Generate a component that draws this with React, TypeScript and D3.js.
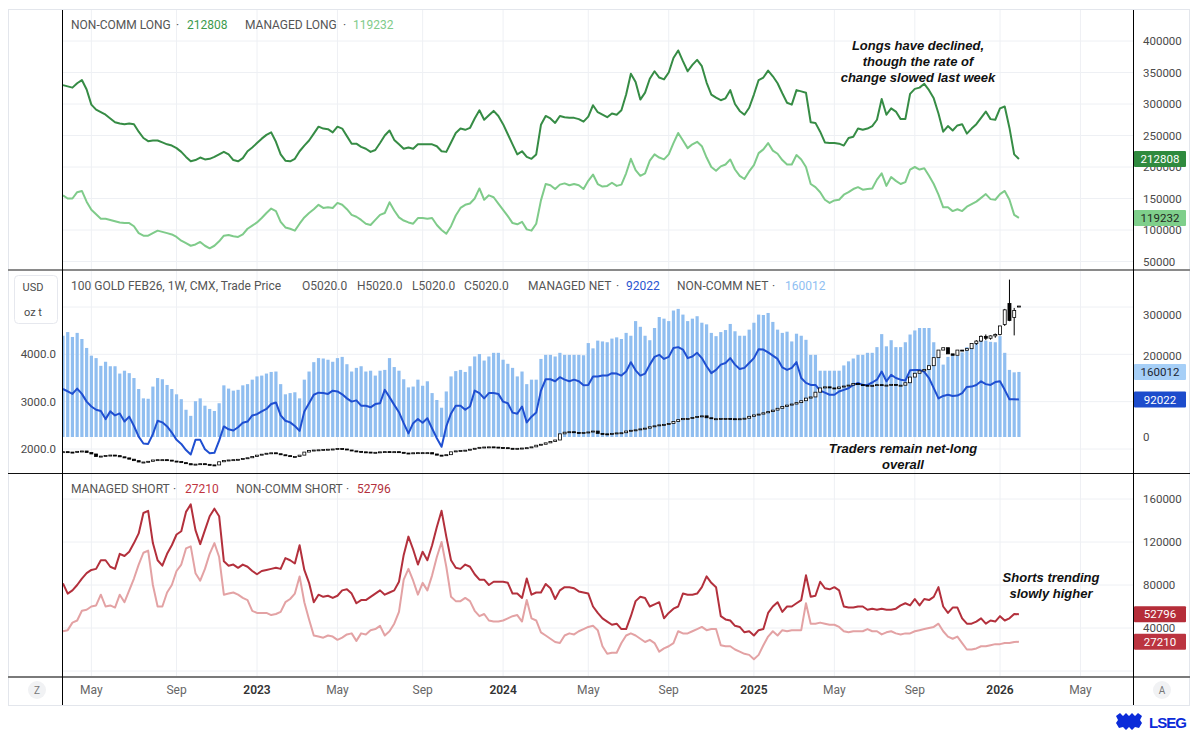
import React from 'react';
import * as d3 from 'd3';

const FONT = "Roboto, 'Liberation Sans', Arial, sans-serif";

// weekly COT report dates start here (Tuesdays), one value per week
const firstWeek = new Date(2022, 2, 22);

// positions in thousands of contracts
const nonCommLong = [
  330, 328, 326, 333, 338, 323, 299, 291, 287, 283,
  277, 271, 269, 268, 269, 268, 256, 246, 241, 242,
  242, 239, 236, 234, 230, 224, 216, 209, 211, 215,
  212, 213, 216, 220, 224, 220, 211, 209, 214, 225,
  231, 238, 245, 251, 255, 240, 220, 210, 209, 213,
  225, 234, 242, 253, 264, 261, 260, 255, 264, 261,
  249, 237, 237, 232, 229, 224, 227, 238, 250, 258,
  243, 236, 229, 231, 229, 236, 236, 236, 236, 233,
  225, 224, 239, 254, 261, 259, 262, 277, 290, 275,
  282, 289, 281, 268, 252, 236, 220, 225, 216, 213,
  220, 267, 281, 277, 270, 281, 279, 278, 278, 276,
  272, 280, 298,
  287, 283, 279, 285, 283, 290, 315, 348, 335, 307,
  318, 340, 352, 342, 339, 350, 373, 385, 368, 352,
  362, 370, 360, 334, 315, 310, 306, 309, 322, 300,
  289, 283, 294, 315, 338, 342, 353, 344, 333, 317,
  302, 299, 322, 320, 318, 271, 270, 256, 239, 238,
  238, 237, 234, 246, 248, 261, 259, 261, 265, 275,
  308, 283, 293, 288, 276, 276, 316, 324, 326, 332,
  322, 309, 285, 256, 265, 258, 266, 268, 253, 261,
  268, 278, 288, 276, 275, 293, 296, 262, 220, 212.808,
];

const managedLong = [
  155, 150, 150, 160, 162, 145, 132, 125, 118, 118,
  116, 114, 112, 111, 111, 106, 95, 91, 91, 95,
  99, 97, 95, 93, 89, 83, 79, 75, 77, 81,
  75, 71, 75, 82, 91, 92, 90, 89, 93, 102,
  107, 112, 119, 127, 134, 130, 113, 104, 102, 99,
  110, 120, 127, 133, 140, 135, 136, 135, 143, 140,
  133, 124, 121, 116, 110, 108, 116, 124, 127, 144,
  131, 120, 115, 112, 110, 119, 119, 118, 119, 108,
  100, 94, 106, 123, 135, 140, 142, 150, 166, 148,
  155, 152, 142, 132, 122, 111, 109, 113, 101, 99,
  110, 147, 173, 171, 165, 172, 174, 171, 173, 171,
  165, 178, 188,
  173, 169, 170, 175, 170, 172, 190, 213, 195, 186,
  190, 210, 220, 215, 212, 220, 238, 254, 242, 230,
  236, 240, 233, 215, 200, 194, 201, 204, 212, 196,
  186, 181, 193, 203, 222, 228, 238, 226, 221, 211,
  204, 204, 219, 212, 200, 173, 168, 160, 148, 143,
  147, 148, 156, 160, 165, 168, 164, 165, 166, 180,
  190, 170, 184, 178, 173, 176, 196, 200, 196, 198,
  186, 173, 156, 136, 136, 130, 133, 130, 137, 141,
  145, 151, 157, 149, 148, 157, 162, 148, 124, 119.232,
];

const nonCommNet = [
  249, 258, 246, 256, 241, 219, 200, 194, 175, 185,
  174, 174, 156, 163, 157, 145, 118, 95, 94, 124,
  145, 142, 128, 118, 105, 93, 67, 52, 88, 95,
  77, 69, 64, 83, 127, 119, 114, 116, 127, 130,
  141, 149, 151, 156, 160, 161, 130, 105, 108, 110,
  95, 141, 161, 184, 194, 193, 190, 185, 194, 197,
  179, 161, 170, 174, 161, 163, 151, 163, 165, 194,
  172, 163, 142, 122, 124, 141, 126, 137, 108, 91,
  72, 112, 149, 162, 165, 160, 174, 198, 204, 188,
  198, 207, 207, 190, 180, 170, 149, 161, 130, 141,
  141, 192, 202, 202, 198, 207, 202, 202, 202, 202,
  201, 231, 218,
  237, 235, 233, 242, 245, 241, 256, 249, 285, 271,
  249, 238, 268, 295, 291, 285, 311, 315, 301, 285,
  291, 297, 281, 277, 256, 248, 258, 263, 278, 260,
  249, 249, 264, 281, 301, 300, 305, 283, 264, 256,
  259, 235, 254, 249, 239, 202, 202, 163, 163, 163,
  163, 163, 176, 186, 193, 202, 202, 207, 207, 221,
  253, 223, 238, 221, 221, 233, 252, 262, 268, 268,
  268, 233, 209, 178, 197, 202, 200, 208, 221, 225,
  231, 238, 237, 234, 233, 248, 207, 165, 159, 160.012,
];

const managedNet = [
  118, 112, 106, 119, 106, 87, 75, 67, 64, 44,
  63, 53, 58, 38, 50, 27, 1, -16, -17, 7,
  40, 36, 26, 11, -7, -17, -32, -43, -7, -7,
  -30, -40, -39, -9, 26, 19, 16, 24, 35, 38,
  53, 56, 63, 69, 81, 85, 53, 40, 36, 27,
  15, 63, 83, 104, 109, 108, 106, 114, 112, 105,
  95, 87, 90, 77, 77, 73, 81, 83, 116, 98,
  79, 61, 34, 9, 34, 44, 35, 46, 21, -3,
  -24, 26, 58, 77, 77, 67, 75, 114, 108, 95,
  108, 108, 106, 87, 83, 60, 57, 75, 36, 50,
  60, 114, 142, 142, 137, 147, 141, 137, 141, 137,
  127, 128, 149,
  149, 151, 151, 157, 156, 151, 161, 184, 164, 151,
  156, 178, 197, 202, 192, 197, 219, 221, 215, 194,
  198, 207, 194, 174, 157, 165, 178, 182, 194, 178,
  167, 170, 182, 194, 216, 215, 208, 200, 192, 171,
  165, 170, 184, 145, 133, 128, 128, 114, 109, 104,
  104, 112, 116, 120, 128, 133, 128, 128, 134, 141,
  161, 137, 153, 145, 141, 139, 164, 165, 165, 160,
  145, 120, 95, 101, 104, 101, 102, 108, 123, 124,
  128, 137, 130, 128, 135, 137, 116, 93, 93, 92.022,
];

const nonCommShort = [
  81.5, 72, 75, 80, 86, 91, 94, 95, 103, 103,
  97, 95, 109, 107, 111, 119, 128, 147, 149, 119,
  103, 98, 109, 117, 127, 130, 148, 155, 131, 118,
  131, 144, 151, 144, 102, 98, 99, 96, 99, 97,
  93, 90, 93, 94, 95, 96, 95, 105, 103, 100,
  117, 94, 82, 64, 71, 69, 70, 68, 70, 75,
  76, 72, 63, 66, 66, 69, 72, 75, 71, 73,
  75, 83, 108, 125, 113, 99, 111, 103, 117, 134,
  149, 125, 103, 96, 95, 99, 97, 90, 85, 85,
  80, 83, 83, 83, 82, 72, 72, 68, 86, 71,
  73, 73, 81, 77, 67, 75, 78, 78, 77, 74,
  73, 72, 60,
  54, 49, 46, 43, 44, 39, 39, 51, 65, 69,
  68, 60, 62, 64, 49, 54, 58, 60, 72, 71,
  71, 72, 78, 88, 82, 78, 51, 48, 47, 42,
  41, 36, 37, 33, 38, 39, 54, 60, 64, 55,
  60, 60, 63, 66, 89, 69, 70, 83, 77, 76,
  78, 75, 60, 59, 59, 60, 60, 57, 58, 57,
  58, 57, 57, 58, 61, 63, 61, 67, 61, 67,
  66, 69, 78, 60, 54, 59, 59, 49, 44, 44,
  46, 49, 44, 47, 46, 51, 47, 49, 53, 52.796,
];

const managedShort = [
  37, 38, 45, 47, 56, 57, 60, 61, 71, 60,
  61, 59, 71, 64, 75, 86, 99, 110, 112, 80,
  60, 60, 73, 80, 93, 99, 114, 116, 91, 84,
  95, 109, 119, 106, 71, 72, 73, 71, 68, 66,
  56, 54, 54, 54, 52, 53, 55, 64, 67, 72,
  88, 64, 48, 33, 32, 31, 33, 32, 29, 31,
  34, 35, 28, 35, 34, 38, 39, 42, 33, 37,
  44, 55, 85, 95, 84, 71, 82, 75, 89, 106,
  120, 97, 69, 65, 65, 68, 65, 56, 51, 53,
  47, 46, 46, 47, 49, 51, 52, 46, 66, 49,
  47, 36, 33, 30, 27, 26, 33, 35, 34, 37,
  39, 41, 42,
  38, 23, 16, 17, 17, 26, 33, 35, 33, 30,
  27, 29, 26, 18, 21, 23, 26, 37, 35, 35,
  37, 39, 41, 38, 39, 39, 24, 23, 23, 20,
  18, 16, 15, 11, 15, 24, 32, 37, 33, 38,
  37, 38, 38, 38, 63, 44, 44, 45, 44, 43,
  43, 41, 37, 36, 37, 37, 37, 39, 37, 37,
  34, 36, 37, 35, 34, 35, 35, 37, 38, 39,
  40, 41, 44, 37, 32, 30, 32, 26, 20, 20,
  21, 23, 23, 24, 25, 25, 26, 26, 27, 27.21,
];

// gold futures weekly close, USD / oz t
const goldClose = [
  1944, 1935, 1932, 1950, 1958, 1925, 1895, 1840, 1850, 1862,
  1872, 1860, 1835, 1812, 1785, 1754, 1725, 1725, 1740, 1768,
  1775, 1775, 1765, 1745, 1735, 1712, 1690, 1665, 1680, 1690,
  1676, 1664, 1663, 1730, 1758, 1768, 1775, 1782, 1800, 1815,
  1840, 1870, 1890, 1910, 1920, 1900, 1878, 1860, 1840, 1840,
  1870, 1935, 1970, 1978, 1983, 1990, 1995, 2000, 2010, 2000,
  1979, 1960, 1950, 1940, 1935, 1930, 1930, 1940, 1945, 1944,
  1944, 1930, 1915, 1910, 1920, 1923, 1923, 1923, 1895, 1870,
  1860, 1880, 1940, 1960, 1970, 1975, 1995, 2015, 2035, 2042,
  2045, 2040, 2032, 2028, 2015, 2014, 2014, 2020, 2028, 2045,
  2080, 2100, 2130, 2160, 2190, 2320, 2355, 2365, 2350, 2340,
  2350, 2360, 2379,
  2330, 2320, 2318, 2330, 2340, 2344, 2380, 2395, 2405, 2425,
  2440, 2470, 2490, 2510, 2520, 2540, 2580, 2620, 2646, 2646,
  2665, 2685, 2700, 2660, 2640, 2640, 2646, 2646, 2640, 2632,
  2640, 2650, 2690, 2720, 2737, 2765, 2790, 2821, 2860, 2900,
  2927, 2950, 2980, 3020, 3075, 3100, 3200, 3290, 3313, 3290,
  3280, 3310, 3330, 3350, 3383, 3360, 3348, 3330, 3345, 3360,
  3340, 3350, 3365, 3348, 3348, 3400, 3520, 3600, 3650, 3680,
  3760, 3930, 4090, 4140, 4010, 3980, 4090, 4085, 4120, 4230,
  4280, 4380, 4340, 4390, 4420, 4600, 4940, 4716, 4926, 5020,
];

// last ten candles have visible opens and wicks
const recentOpen = [4230, 4280, 4380, 4340, 4390, 4420, 4632, 5074, 4779, 5020];
const recentHigh = [4300, 4400, 4420, 4400, 4440, 4470, 4960, 5579, 4980, 5020];
const recentLow = [4200, 4260, 4300, 4310, 4350, 4400, 4600, 4700, 4400, 5020];

const tickMonths = [
  '2022-05', '2022-09', '2023-01', '2023-05', '2023-09', '2024-01', '2024-05',
  '2024-09', '2025-01', '2025-05', '2025-09', '2026-01', '2026-05',
];

const topTicks = [50000, 100000, 150000, 200000, 250000, 300000, 350000, 400000];
// 100000 sits under the managed-net badge in the original, so it is not printed
const netTicks = [0, 200000, 300000];
const priceTicks = [2000, 3000, 4000, 5000];
const shortTicks = [40000, 80000, 120000, 160000];

const LEFT = 62;
const RIGHT = 1133;

const dates = nonCommLong.map((_, i) => d3.timeWeek.offset(firstWeek, i));

const x = d3.scaleTime().domain([new Date(2023, 0, 3), new Date(2026, 0, 6)]).range([257, 1000]);
const yTop = d3.scaleLinear().domain([50000, 400000]).range([261.5, 41]);
const yNet = d3.scaleLinear().domain([0, 300000]).range([437, 315]);
const yPrice = d3.scaleLinear().domain([2000, 5000]).range([449, 307]);
const yShort = d3.scaleLinear().domain([0, 160000]).range([671, 499]);

const pathFor = (vals: number[], y: d3.ScaleLinear<number, number>) =>
  d3.line<number>().x((_, i) => x(dates[i])).y((v) => y(v * 1000))(vals) || '';

const fmtMonth = d3.timeFormat('%b');
const ticks = tickMonths.map((s) => {
  const [yy, mm] = s.split('-').map(Number);
  const d = d3.timeTuesday.ceil(new Date(yy, mm - 1, 1));
  return { x: x(d), label: mm === 1 ? String(yy) : fmtMonth(d), year: mm === 1 };
});

const last = (a: number[]) => Math.round(a[a.length - 1] * 1000);

const C = {
  ncLong: '#368c45',
  mLong: '#7fcb8a',
  bars: '#90bef0',
  mNet: '#1f4fd1',
  ncShort: '#b3303c',
  mShort: '#e3a2a4',
  grid: '#eef0f4',
  text: '#4a4a4a',
};

function Badge({ y, value, bg, fg }: { y: number; value: number; bg: string; fg: string }) {
  return (
    <g>
      <rect x={1134} y={y - 8} width={52} height={16} fill={bg} rx={1} />
      <text x={1160} y={y + 4} textAnchor="middle" fontSize={11.5} fill={fg} fontFamily={FONT}>
        {value}
      </text>
    </g>
  );
}

type Part = { x: number; t: string; c?: string };
function Legend({ y, parts }: { y: number; parts: Part[] }) {
  return (
    <g fontFamily={FONT} fontSize={12}>
      {parts.map((p, i) => (
        <text key={i} x={p.x} y={y} fill={p.c || '#555'}>
          {p.t}
        </text>
      ))}
    </g>
  );
}

export default function App() {
  const n = dates.length;
  const recentStart = n - recentOpen.length;

  const candles = goldClose.map((c, i) => {
    const r = i - recentStart;
    const o = r >= 0 ? recentOpen[r] : i === 0 ? c : goldClose[i - 1];
    const up = c >= o;
    const cx = x(dates[i]);
    const top = yPrice(Math.max(o, c));
    const h = Math.max(1, Math.abs(yPrice(o) - yPrice(c)));
    return (
      <g key={i}>
        {r >= 0 && (
          <line x1={cx} x2={cx} y1={yPrice(recentHigh[r])} y2={yPrice(recentLow[r])} stroke="#000" strokeWidth={1} />
        )}
        <rect x={cx - 1.5} y={top} width={3} height={h} fill={up ? '#fff' : '#000'} stroke="#000" strokeWidth={0.8} />
      </g>
    );
  });

  return (
    <svg
      width={1199}
      height={735}
      style={{ position: 'absolute', left: 0, top: 0, background: '#fff', display: 'block' }}
    >
      <defs>
        <clipPath id="cTop"><rect x={LEFT} y={11} width={RIGHT - LEFT} height={258} /></clipPath>
        <clipPath id="cMid"><rect x={LEFT} y={271} width={RIGHT - LEFT} height={201} /></clipPath>
        <clipPath id="cBot"><rect x={LEFT} y={474} width={RIGHT - LEFT} height={202} /></clipPath>
      </defs>
      <rect x={0} y={0} width={1199} height={735} fill="#fff" />
      <rect x={8.5} y={9.5} width={1181} height={696} fill="none" stroke="#e3e6ec" />

      {/* vertical grid */}
      {ticks.filter((t) => t.x < RIGHT).map((t, i) => (
        <line key={i} x1={t.x} x2={t.x} y1={10} y2={677} stroke={C.grid} />
      ))}
      {/* horizontal grid */}
      {topTicks.map((v) => (
        <line key={'gt' + v} x1={LEFT} x2={RIGHT} y1={yTop(v)} y2={yTop(v)} stroke={C.grid} />
      ))}
      {priceTicks.map((v) => (
        <line key={'gp' + v} x1={LEFT} x2={RIGHT} y1={yPrice(v)} y2={yPrice(v)} stroke={C.grid} />
      ))}
      {[0, ...shortTicks].map((v) => (
        <line key={'gs' + v} x1={LEFT} x2={RIGHT} y1={yShort(v)} y2={yShort(v)} stroke={C.grid} />
      ))}

      {/* top pane: longs */}
      <g clipPath="url(#cTop)" fill="none" strokeWidth={2} strokeLinejoin="round">
        <path d={pathFor(managedLong, yTop)} stroke={C.mLong} />
        <path d={pathFor(nonCommLong, yTop)} stroke={C.ncLong} />
      </g>

      {/* middle pane: nets + gold price */}
      <g clipPath="url(#cMid)">
        {nonCommNet.map((v, i) => (
          <rect key={i} x={x(dates[i]) - 1.6} y={yNet(v * 1000)} width={3.2} height={yNet(0) - yNet(v * 1000)} fill={C.bars} />
        ))}
        <path d={pathFor(managedNet, yNet)} fill="none" stroke={C.mNet} strokeWidth={2} strokeLinejoin="round" />
        {candles}
      </g>

      {/* bottom pane: shorts */}
      <g clipPath="url(#cBot)" fill="none" strokeWidth={2} strokeLinejoin="round">
        <path d={pathFor(managedShort, yShort)} stroke={C.mShort} />
        <path d={pathFor(nonCommShort, yShort)} stroke={C.ncShort} />
      </g>

      {/* separators */}
      <line x1={8} x2={1190} y1={270} y2={270} stroke="#8a8a8a" strokeWidth={2} />
      <line x1={8} x2={1190} y1={473.5} y2={473.5} stroke="#111" strokeWidth={1} />
      <line x1={8} x2={1190} y1={677} y2={677} stroke="#7a7a7a" strokeWidth={2} />
      <line x1={LEFT + 0.5} x2={LEFT + 0.5} y1={10} y2={705} stroke="#000" />
      <line x1={RIGHT + 0.5} x2={RIGHT + 0.5} y1={10} y2={705} stroke="#000" />

      {/* right axes */}
      <g fontFamily={FONT} fontSize={11.5} fill={C.text}>
        {topTicks.map((v) => (
          <text key={'t' + v} x={1143} y={yTop(v) + 4}>{v}</text>
        ))}
        {netTicks.map((v) => (
          <text key={'n' + v} x={1143} y={yNet(v) + 4}>{v}</text>
        ))}
        {shortTicks.map((v) => (
          <text key={'s' + v} x={1143} y={yShort(v) + 4}>{v}</text>
        ))}
      </g>
      {/* left price axis */}
      <g fontFamily={FONT} fontSize={11.5} fill={C.text} textAnchor="end">
        {priceTicks.filter((v) => v < 5000).map((v) => (
          <text key={'p' + v} x={56} y={yPrice(v) + 4}>{v.toFixed(1)}</text>
        ))}
      </g>
      <rect x={14.5} y={275.5} width={43} height={48} rx={4} fill="#fff" stroke="#e6e8ee" />
      <text x={33} y={291} textAnchor="middle" fontFamily={FONT} fontSize={11} fill={C.text}>USD</text>
      <text x={33} y={316} textAnchor="middle" fontFamily={FONT} fontSize={11} fill={C.text}>oz t</text>

      {/* last value badges */}
      <Badge y={yTop(last(nonCommLong))} value={last(nonCommLong)} bg="#2f8a3e" fg="#fff" />
      <Badge y={yTop(last(managedLong))} value={last(managedLong)} bg="#7fcf8b" fg="#1f2a1f" />
      <Badge y={yNet(last(nonCommNet))} value={last(nonCommNet)} bg="#a6cff7" fg="#1c2633" />
      <Badge y={yNet(last(managedNet))} value={last(managedNet)} bg="#1d4ccc" fg="#fff" />
      <Badge y={yShort(last(nonCommShort))} value={last(nonCommShort)} bg="#b52d39" fg="#fff" />
      <Badge y={yShort(last(managedShort))} value={last(managedShort)} bg="#bb3440" fg="#fff" />

      {/* legends */}
      <Legend
        y={29}
        parts={[
          { x: 71, t: 'NON-COMM LONG' },
          { x: 176, t: '·' },
          { x: 187, t: String(last(nonCommLong)), c: '#3c9a4c' },
          { x: 245, t: 'MANAGED LONG' },
          { x: 343, t: '·' },
          { x: 353, t: String(last(managedLong)), c: '#7fcb8a' },
        ]}
      />
      <Legend
        y={290}
        parts={[
          { x: 71, t: '100 GOLD FEB26, 1W, CMX, Trade Price' },
          { x: 302, t: 'O5020.0' },
          { x: 357, t: 'H5020.0' },
          { x: 412, t: 'L5020.0' },
          { x: 464, t: 'C5020.0' },
          { x: 528, t: 'MANAGED NET' },
          { x: 616, t: '·' },
          { x: 626, t: String(last(managedNet)), c: '#2a55d0' },
          { x: 677, t: 'NON-COMM NET' },
          { x: 772, t: '·' },
          { x: 785, t: String(last(nonCommNet)), c: '#8fc0f2' },
        ]}
      />
      <Legend
        y={493}
        parts={[
          { x: 71, t: 'MANAGED SHORT' },
          { x: 173, t: '·' },
          { x: 185, t: String(last(managedShort)), c: '#c0343f' },
          { x: 236, t: 'NON-COMM SHORT' },
          { x: 346, t: '·' },
          { x: 357, t: String(last(nonCommShort)), c: '#b3303c' },
        ]}
      />

      {/* annotations */}
      <g fontFamily="'Liberation Sans', Arial, sans-serif" fontSize={13} fontStyle="italic" fontWeight={700} fill="#111" textAnchor="middle">
        <text x={918} y={50}>Longs have declined,</text>
        <text x={918} y={66}>though the rate of</text>
        <text x={918} y={82}>change slowed last week</text>
        <text x={903} y={453}>Traders remain net-long</text>
        <text x={903} y={469}>overall</text>
        <text x={1051} y={582}>Shorts trending</text>
        <text x={1051} y={598}>slowly higher</text>
      </g>

      {/* time axis */}
      <g fontFamily={FONT} fontSize={12} textAnchor="middle">
        {ticks.map((t, i) => (
          <text key={i} x={t.x} y={694} fill={t.year ? '#333' : '#666'} fontWeight={t.year ? 600 : 400}>
            {t.label}
          </text>
        ))}
      </g>
      <circle cx={37} cy={690} r={9} fill="#f1f2f4" />
      <text x={37} y={694} textAnchor="middle" fontFamily={FONT} fontSize={10} fill="#777">Z</text>
      <circle cx={1162} cy={690} r={9} fill="#f1f2f4" />
      <text x={1162} y={694} textAnchor="middle" fontFamily={FONT} fontSize={10} fill="#777">A</text>

      {/* LSEG mark */}
      <g fill="#0b2bd9">
        <path d="M1116 716 l4 -3 l3 3 l3 -3 l3 3 l3 -3 l3 3 l3 -3 l4 3 l-2 4 l2 3 l-3 5 l-4 -1 l-3 3 l-3 -3 l-3 3 l-3 -3 l-4 1 l-3 -5 l2 -3 z" />
      </g>
      <text x={1149} y={728} fontFamily="'Liberation Sans', Arial, sans-serif" fontSize={15} fontWeight={700} fill="#0b2bd9" textLength={38}>
        LSEG
      </text>
    </svg>
  );
}
